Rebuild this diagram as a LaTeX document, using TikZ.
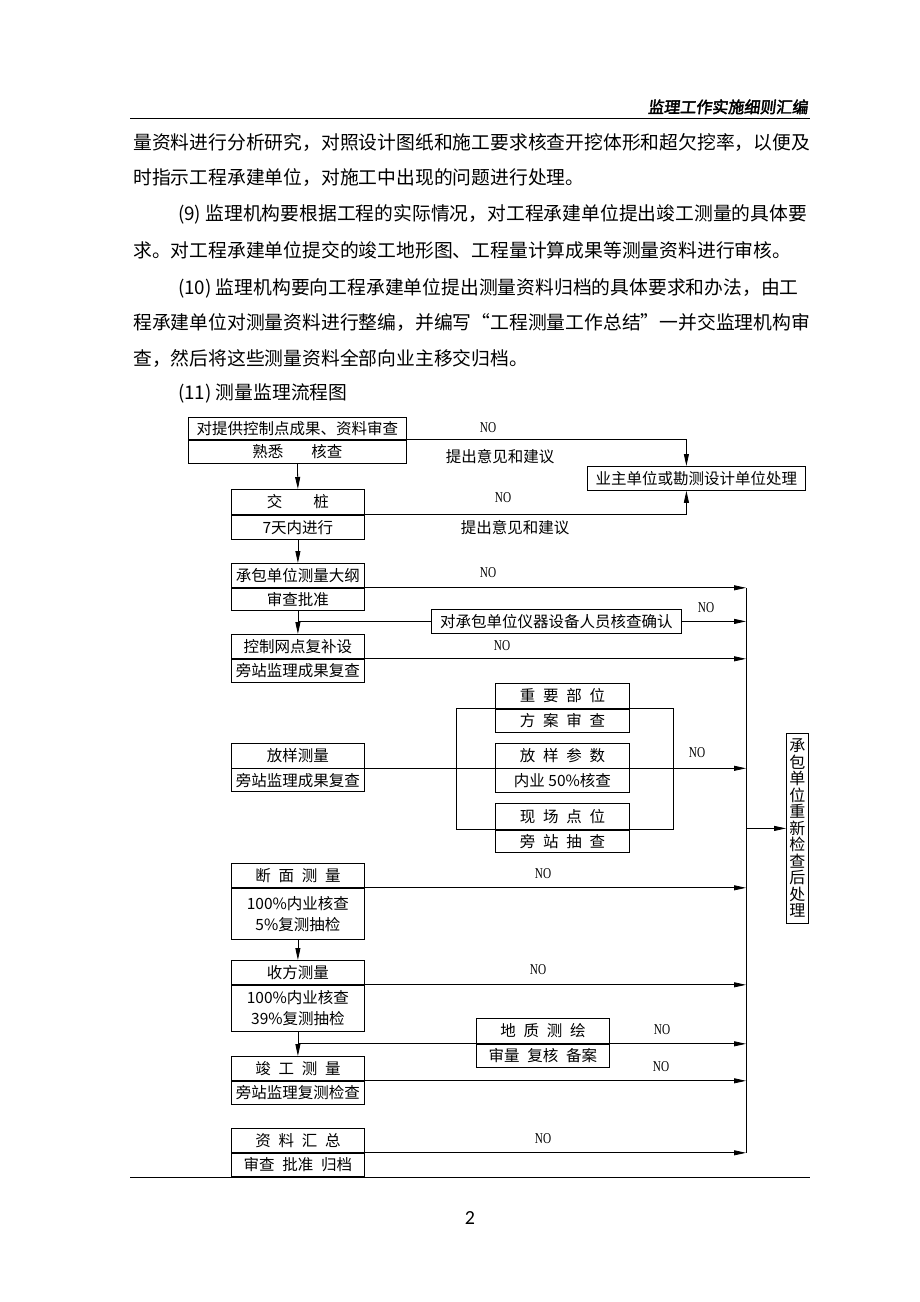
\documentclass[tikz,border=0pt]{standalone}
\usepackage{fontspec}
\setmainfont{Noto Sans CJK SC}
\newfontfamily\nofont[FakeStretch=0.75]{Liberation Serif}
\newfontfamily\headfont[FakeBold=2.5,FakeSlant=0.12]{Noto Sans CJK SC}
\newfontfamily\numfont{Carlito}
\usetikzlibrary{arrows.meta}

\newcommand{\kgap}{\hspace{0.5em}}

\tikzset{
  cell/.style={draw, line width=0.8pt, inner sep=0pt, font=\fontsize{15.5}{21}\selectfont},
  main/.style={cell, minimum width=133pt},
  sub/.style={cell, minimum width=134pt},
  note/.style={inner sep=0pt, font=\fontsize{15.5}{21}\selectfont},
  nolab/.style={inner sep=0pt, font={\nofont\fontsize{15}{15}\selectfont}},
  para/.style={anchor=base west, inner sep=0pt, font=\fontsize{18.8}{18.8}\selectfont},
  link/.style={line width=0.8pt},
}

\begin{document}
\begin{tikzpicture}[x=1pt,y=-1pt,>={Triangle[length=12pt,width=5pt]}]
  \path[use as bounding box, fill=white] (0,0) rectangle (920,1302);

  % Header
  \node[anchor=base east, inner sep=0pt, font={\headfont\fontsize{16}{16}\selectfont}] (head) at (808,113) {监理工作实施细则汇编};
  \draw[line width=0.8pt] (130,118) -- (810,118);

  % Text
  \node[para] (p1) at (133,149) {量资料进行分析研究，对照设计图纸和施工要求核查开挖体形和超欠挖率，以便及};
  \node[para] (p2) at (133,184) {时指示工程承建单位，对施工中出现的问题进行处理。};
  \node[para] (p3) at (178,220) {(9) 监理机构要根据工程的实际情况，对工程承建单位提出竣工测量的具体要};
  \node[para] (p4) at (133,257) {求。对工程承建单位提交的竣工地形图、工程量计算成果等测量资料进行审核。};
  \node[para] (p5) at (178,294) {(10) 监理机构要向工程承建单位提出测量资料归档的具体要求和办法，由工};
  \node[para] (p6) at (133,329) {程承建单位对测量资料进行整编，并编写“工程测量工作总结”一并交监理机构审};
  \node[para] (p7) at (133,365) {查，然后将这些测量资料全部向业主移交归档。};
  \node[para] (p8) at (178,399) {(11) 测量监理流程图};

  % Boxes
  \node[cell, minimum width=218pt, minimum height=22pt, anchor=north west] (tg1) at (188,417) {对提供控制点成果、资料审查};
  \node[cell, minimum width=218pt, minimum height=23pt, anchor=north] (tg2) at (tg1.south) {熟悉\hspace{1.8em}核查};
  \node[cell, minimum width=218pt, minimum height=24pt, anchor=north west] (yz) at (587,466) {业主单位或勘测设计单位处理};

  \node[main, minimum height=25pt, anchor=north west] (jz1) at (231,489) {交\hspace{2em}桩};
  \node[main, minimum height=24pt, anchor=north] (jz2) at (jz1.south) {7天内进行};

  \node[main, minimum height=24pt, anchor=north west] (cb1) at (231,563) {承包单位测量大纲};
  \node[main, minimum height=22pt, anchor=north] (cb2) at (cb1.south) {审查批准};
  \node[cell, minimum width=250pt, minimum height=24pt, anchor=north west] (yq) at (431,609) {对承包单位仪器设备人员核查确认};

  \node[main, minimum height=24pt, anchor=north west] (kz1) at (231,634) {控制网点复补设};
  \node[main, minimum height=23pt, anchor=north] (kz2) at (kz1.south) {旁站监理成果复查};

  \node[main, minimum height=24.5pt, anchor=north west] (fy1) at (231,743) {放样测量};
  \node[main, minimum height=23pt, anchor=north] (fy2) at (fy1.south) {旁站监理成果复查};

  \node[sub, minimum height=25pt, anchor=north west] (zy1) at (495,683) {重\kgap 要\kgap 部\kgap 位};
  \node[sub, minimum height=23pt, anchor=north] (zy2) at (zy1.south) {方\kgap 案\kgap 审\kgap 查};
  \node[sub, minimum height=24.5pt, anchor=north west] (cs1) at (495,743) {放\kgap 样\kgap 参\kgap 数};
  \node[sub, minimum height=23.5pt, anchor=north] (cs2) at (cs1.south) {内业 50\%核查};
  \node[sub, minimum height=26pt, anchor=north west] (xc1) at (495,803) {现\kgap 场\kgap 点\kgap 位};
  \node[sub, minimum height=22pt, anchor=north] (xc2) at (xc1.south) {旁\kgap 站\kgap 抽\kgap 查};

  \node[cell, minimum width=22pt, minimum height=190pt, anchor=north west, align=center,
        font=\fontsize{16}{16.5}\selectfont] (cx) at (786,733)
        {承\\包\\单\\位\\重\\新\\检\\查\\后\\处\\理};

  \node[main, minimum height=24pt, anchor=north west] (dm1) at (231,863) {断\kgap 面\kgap 测\kgap 量};
  \node[main, minimum height=51pt, anchor=north, align=center] (dm2) at (dm1.south) {100\%内业核查\\5\%复测抽检};

  \node[main, minimum height=24pt, anchor=north west] (sf1) at (231,960) {收方测量};
  \node[main, minimum height=46pt, anchor=north, align=center] (sf2) at (sf1.south) {100\%内业核查\\39\%复测抽检};

  \node[main, minimum height=25pt, anchor=north west] (dz1) at (476,1018) {地\kgap 质\kgap 测\kgap 绘};
  \node[main, minimum height=23pt, anchor=north] (dz2) at (dz1.south) {审量\kgap 复核\kgap 备案};

  \node[main, minimum height=24pt, anchor=north west] (jg1) at (231,1056) {竣\kgap 工\kgap 测\kgap 量};
  \node[main, minimum height=23pt, anchor=north] (jg2) at (jg1.south) {旁站监理复测检查};

  \node[main, minimum height=24pt, anchor=north west] (zl1) at (231,1128) {资\kgap 料\kgap 汇\kgap 总};
  \node[main, minimum height=23pt, anchor=north] (zl2) at (zl1.south) {审查\kgap 批准\kgap 归档};

  % Collector lines
  \coordinate (bus) at (746,0);
  \coordinate (lb) at (456,0);
  \coordinate (rb) at (673,0);

  % Connectors
  \draw[link,->] (tg1.south east) -| ([xshift=-10pt]yz.north);
  \draw[link,->] (tg2.south) -- (jz1.north);
  \draw[link,->] (jz1.south east) -| ([xshift=-10pt]yz.south);
  \draw[link,->] (jz2.south) -- (cb1.north);
  \draw[link,->] (cb1.south east) -- (cb1.south east -| bus);
  \draw[link,->] (cb2.south) -- (kz1.north);
  \draw[link] (yq.west -| cb2.south) -- (yq.west);
  \draw[link,->] (yq.east) -- (yq.east -| bus);
  \draw[link,->] (kz1.south east) -- (kz1.south east -| bus);

  \draw[link] (fy1.south east) -- (cs1.south west);
  \draw[link] (zy1.south west) -- (zy1.south west -| lb) -- (xc1.south west -| lb) -- (xc1.south west);
  \draw[link] (zy1.south east) -- (zy1.south east -| rb) -- (xc1.south east -| rb) -- (xc1.south east);
  \draw[link,->] (cs1.south east) -- (cs1.south east -| bus);
  \draw[link,->] (cx.west -| bus) -- (cx.west);

  \draw[link,->] (dm1.south east) -- (dm1.south east -| bus);
  \draw[link,->] (dm2.south) -- (sf1.north);
  \draw[link,->] (sf1.south east) -- (sf1.south east -| bus);
  \draw[link,->] (sf2.south) -- (jg1.north);
  \draw[link] (dz1.south west -| sf2.south) -- (dz1.south west);
  \draw[link,->] (dz1.south east) -- (dz1.south east -| bus);
  \draw[link,->] (jg1.south east) -- (jg1.south east -| bus);
  \draw[link,->] (zl1.south east) -- (zl1.south east -| bus);
  \draw[link] (cb1.south east -| bus) -- (zl1.south east -| bus);

  % Labels
  \node[nolab] (no1) at (488,428) {NO};
  \node[note] (yj1) at (500,457) {提出意见和建议};
  \node[nolab] (no2) at (503,498) {NO};
  \node[note] (yj2) at (515,528) {提出意见和建议};
  \node[nolab] (no3) at (488,573) {NO};
  \node[nolab] (no4) at (706,608) {NO};
  \node[nolab] (no5) at (502,646) {NO};
  \node[nolab] (no6) at (697,753) {NO};
  \node[nolab] (no7) at (543,874) {NO};
  \node[nolab] (no8) at (538,970) {NO};
  \node[nolab] (no9) at (662,1030) {NO};
  \node[nolab] (no10) at (661,1067) {NO};
  \node[nolab] (no11) at (543,1139) {NO};

  % Footer
  \draw[line width=0.8pt] (130,1177) -- (810,1177);
  \node[font={\numfont\fontsize{20}{20}\selectfont}] (pg) at (470,1218) {2};
\end{tikzpicture}
\end{document}
